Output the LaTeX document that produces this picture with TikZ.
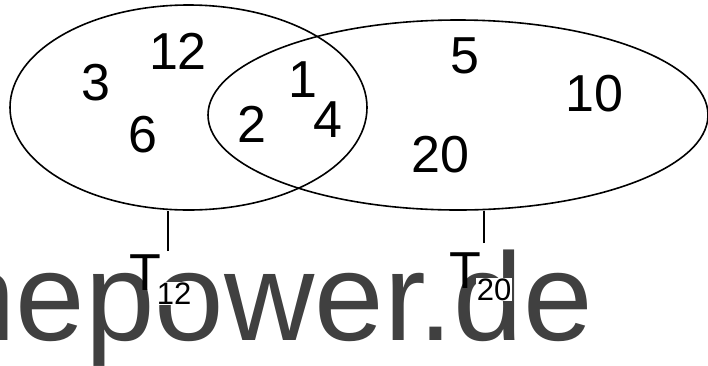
\documentclass[tikz,border=0pt]{standalone}
\usepackage{fontspec}
\setmainfont{Liberation Sans}
\usetikzlibrary{positioning,shapes.geometric}

\begin{document}
\begin{tikzpicture}[
  x=1pt, y=-1pt,
  num/.style={font=\fontsize{52}{52}\selectfont, inner sep=0pt, anchor=base},
  setbox/.style={draw, ellipse, line width=1.6pt, inner sep=0pt},
  tlabel/.style={font=\fontsize{52}{52}\selectfont, inner sep=0pt, anchor=base west},
  subnum/.style={font=\fontsize{31}{31}\selectfont, fill=white, inner sep=0.5pt, anchor=base west},
  wmark/.style={font=\fontsize{125}{125}\selectfont, text=black!75, inner sep=0pt, anchor=base east},
  stem/.style={line width=1.6pt}
]
\useasboundingbox (0,0) rectangle (708,365);
% ---- watermark (behind everything) ----
\node[wmark] (wm) at (593,340) {hepower.de};
% ---- the two sets ----
\node[setbox, minimum width=357pt, minimum height=205pt] (s12) at (188.5,107.5) {};
\node[setbox, minimum width=500pt, minimum height=190pt] (s20) at (458,115) {};
% ---- elements ----
\node[num] (n3)  at (96,100)  {3};
\node[num] (n12) at (178,69)  {12};
\node[num] (n6)  at (143,152) {6};
\node[num] (n1)  at (303,97)  {1};
\node[num] (n2)  at (252,142) {2};
\node[num] (n4)  at (328,137) {4};
\node[num] (n5)  at (465,73)  {5};
\node[num] (n10) at (594,111) {10};
\node[num] (n20) at (440,172) {20};
% ---- set labels ----
\node[tlabel] (t12) at (129,290) {T};
\node[subnum, right=-5pt of t12.base east, anchor=base west, yshift=-14pt] (i12) {12};
\node[tlabel] (t20) at (449,288) {T};
\node[subnum, right=-5pt of t20.base east, anchor=base west, yshift=-12pt] (i20) {20};
\coordinate (p12) at (168,251);
\coordinate (p20) at (484,243);
\draw[stem] (p12) -- (p12 |- s12.south);
\draw[stem] (p20) -- (p20 |- s20.south);
\end{tikzpicture}
\end{document}
